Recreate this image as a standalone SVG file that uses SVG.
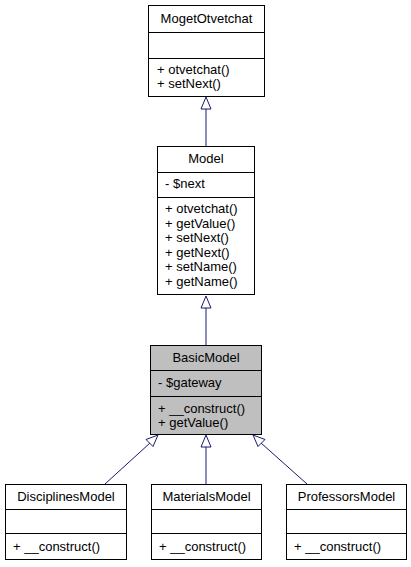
<svg xmlns="http://www.w3.org/2000/svg" width="411" height="567" viewBox="0 0 411 567">
<style>
.box{fill:#ffffff;stroke:#000000;stroke-width:1}
.hl{fill:#bfbfbf;stroke:#000000;stroke-width:1}
.sep{stroke:#000000;stroke-width:1}
text{font-family:"Liberation Sans",Arial,Helvetica,sans-serif;font-size:13px;fill:#000000}
.c{text-anchor:middle}
.edge{stroke:#191970;stroke-width:1;fill:none}
.head{stroke:#191970;stroke-width:1;fill:#ffffff}
</style>
<rect width="411" height="567" fill="#ffffff"/>
<g id="edges">
<line class="edge" x1="206" y1="146" x2="206" y2="109"/>
<polygon class="head" points="206,97 201,109 211,109"/>
<line class="edge" x1="206" y1="346" x2="206" y2="308"/>
<polygon class="head" points="206,296 201,308 211,308"/>
<line class="edge" x1="206" y1="484" x2="206" y2="447"/>
<polygon class="head" points="206,435 201,447 211,447"/>
<line class="edge" x1="105" y1="484" x2="150" y2="443"/>
<polygon class="head" points="158,435 146,439.5 153,446.5"/>
<line class="edge" x1="307" y1="484" x2="261" y2="443"/>
<polygon class="head" points="253,435 258,446.5 265,439.5"/>
</g>
<g id="MogetOtvetchat">
<rect class="box" x="148.5" y="5.5" width="116" height="91"/>
<line class="sep" x1="148.5" y1="32.5" x2="264.5" y2="32.5"/>
<line class="sep" x1="148.5" y1="58.5" x2="264.5" y2="58.5"/>
<text class="c" x="206.5" y="23">MogetOtvetchat</text>
<text x="157" y="74">+ otvetchat()</text>
<text x="157" y="88">+ setNext()</text>
</g>
<g id="Model">
<rect class="box" x="157.5" y="146.5" width="97" height="148"/>
<line class="sep" x1="157.5" y1="172.5" x2="254.5" y2="172.5"/>
<line class="sep" x1="157.5" y1="197.5" x2="254.5" y2="197.5"/>
<text class="c" x="206" y="163">Model</text>
<text x="165" y="188">- $next</text>
<text x="165" y="213">+ otvetchat()</text>
<text x="165" y="227.5">+ getValue()</text>
<text x="165" y="242">+ setNext()</text>
<text x="165" y="256.5">+ getNext()</text>
<text x="165" y="271">+ setName()</text>
<text x="165" y="285.5">+ getName()</text>
</g>
<g id="BasicModel">
<rect class="hl" x="150.5" y="345.5" width="111" height="89"/>
<line class="sep" x1="150.5" y1="370.5" x2="261.5" y2="370.5"/>
<line class="sep" x1="150.5" y1="396.5" x2="261.5" y2="396.5"/>
<text class="c" x="206" y="362">BasicModel</text>
<text x="158" y="387">- $gateway</text>
<text x="158" y="413">+ __construct()</text>
<text x="158" y="427">+ getValue()</text>
</g>
<g id="DisciplinesModel">
<rect class="box" x="5.5" y="484.5" width="121" height="75"/>
<line class="sep" x1="5.5" y1="509.5" x2="126.5" y2="509.5"/>
<line class="sep" x1="5.5" y1="533.5" x2="126.5" y2="533.5"/>
<text class="c" x="66" y="501">DisciplinesModel</text>
<text x="13" y="551">+ __construct()</text>
</g>
<g id="MaterialsModel">
<rect class="box" x="151.5" y="484.5" width="110" height="75"/>
<line class="sep" x1="151.5" y1="509.5" x2="261.5" y2="509.5"/>
<line class="sep" x1="151.5" y1="533.5" x2="261.5" y2="533.5"/>
<text class="c" x="206.5" y="501">MaterialsModel</text>
<text x="159" y="551">+ __construct()</text>
</g>
<g id="ProfessorsModel">
<rect class="box" x="286.5" y="484.5" width="120" height="75"/>
<line class="sep" x1="286.5" y1="509.5" x2="406.5" y2="509.5"/>
<line class="sep" x1="286.5" y1="533.5" x2="406.5" y2="533.5"/>
<text class="c" x="346.5" y="501">ProfessorsModel</text>
<text x="294" y="551">+ __construct()</text>
</g>
</svg>
